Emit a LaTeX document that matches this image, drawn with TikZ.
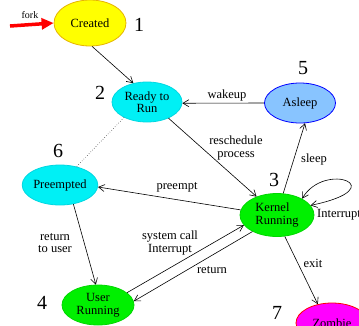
\documentclass[tikz,border=0pt]{standalone}
\usepackage{fontspec}
\setmainfont{Liberation Serif}
\usetikzlibrary{shapes.geometric,arrows.meta}

\definecolor{stYellow}{RGB}{255,255,0}
\definecolor{stYellowEdge}{RGB}{230,180,0}
\definecolor{stCyan}{RGB}{0,240,245}
\definecolor{stCyanEdge}{RGB}{0,215,225}
\definecolor{stSky}{RGB}{136,196,255}
\definecolor{stGreen}{RGB}{0,240,0}
\definecolor{stGreenEdge}{RGB}{0,215,0}
\definecolor{stMagenta}{RGB}{255,0,255}
\definecolor{stRed}{RGB}{255,0,0}
\definecolor{stBlue}{RGB}{0,0,255}

\tikzset{
  state/.style={ellipse, inner sep=0pt, line width=0.8pt, align=center,
    font=\fontsize{12.5}{12.5}\selectfont},
  num/.style={font=\fontsize{20}{22}\selectfont, inner sep=0pt},
  lbl/.style={font=\fontsize{12.5}{12.5}\selectfont, inner sep=0pt, align=center},
  edge/.style={line width=0.6pt, -{Straight Barb[length=6pt,width=7pt]}},
}

\begin{document}
\begin{tikzpicture}[x=1pt, y=-1pt]
\useasboundingbox (0,0) rectangle (359,325);

% process states
\node[state, fill=stYellow, draw=stYellowEdge, minimum width=72pt, minimum height=46pt] (created) at (90,23) {Created};
\node[state, fill=stCyan, draw=stCyanEdge, minimum width=70pt, minimum height=40pt] (ready) at (147,102) {Ready to\\Run};
\node[state, fill=stSky, draw=stBlue, minimum width=71pt, minimum height=40pt] (asleep) at (300,103) {Asleep};
\node[state, fill=stCyan, draw=stCyanEdge, minimum width=68pt, minimum height=40pt] (preempted) at (60,185) {Preempted};
\node[state, fill=stGreen, draw=stGreenEdge, minimum width=74pt, minimum height=43pt, align=left] (kernel) at (277,215) {Kernel\\Running};
\node[state, fill=stGreen, draw=stGreenEdge, minimum width=72pt, minimum height=40pt] (user) at (98,305) {User\\Running};
\node[state, fill=stMagenta, draw=stRed, minimum width=72pt, minimum height=40pt] (zombie) at (332,323) {Zombie};

% state numbers
\node[num] (n1) at (139,25) {1};
\node[num] (n2) at (100,93) {2};
\node[num] (n3) at (274,180) {3};
\node[num] (n4) at (42,303) {4};
\node[num] (n5) at (303,68) {5};
\node[num] (n6) at (58,151) {6};
\node[num] (n7) at (277,313) {7};

% fork entry
\coordinate (forkstart) at (10,26);
\draw[stRed, line width=3.5pt, -{Triangle[length=12pt,width=11pt]}] (forkstart) -- (created.west);
\node[font=\fontsize{10}{10}\selectfont, inner sep=0pt] (forklbl) at (30,15) {fork};

% transitions
\draw[edge] (created.-85) -- (ready.126);
\draw[edge] (asleep.180) -- (ready.-2);
\node[lbl] (wakeup) at (227,95) {wakeup};
\draw[line width=0.5pt, dotted] (ready.214) -- (preempted.48);
\draw[edge] (ready.-37) -- (kernel.138);
\node[lbl] (resched) at (236,148) {reschedule\\process};
\draw[edge] (kernel.172) -- (preempted.-3);
\node[lbl] (preempt) at (177,187) {preempt};
\draw[edge] (kernel.74) -- (asleep.-76);
\node[lbl] (sleep) at (314,159) {sleep};
\draw[edge] (preempted.-55) -- (user.96);
\node[lbl] (rtu) at (55,243) {return\\to user};
\draw[edge] (user.23) -- (kernel.197);
\node[lbl] (syscall) at (170,243) {system call\\Interrupt};
\draw[edge] (kernel.214) -- (user.6);
\node[lbl] (ret) at (212,270) {return};
\draw[edge] (kernel.-70) -- (zombie.127);
\node[lbl] (exit) at (313,263) {exit};
\draw[line width=0.6pt, {Straight Barb[length=6pt,width=7pt]}-{Straight Barb[length=6pt,width=7pt]}]
  (kernel.33) .. controls (325,160) and (395,188) .. (kernel.16);
\node[lbl, anchor=west] (intr) at (317,215) {Interrupt};
\end{tikzpicture}
\end{document}
